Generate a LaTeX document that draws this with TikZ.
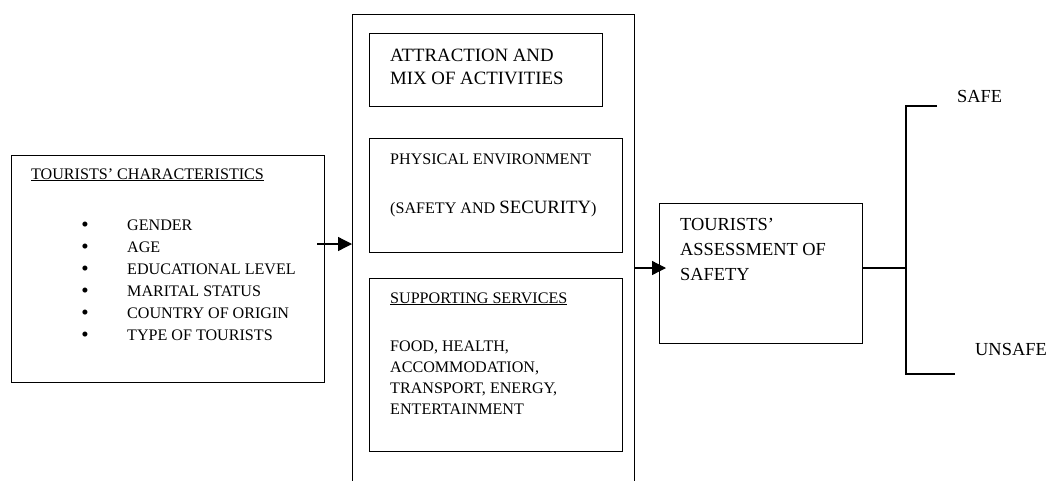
\documentclass[tikz,border=0pt]{standalone}
\usepackage{fontspec}
\setmainfont{Liberation Serif}
\usetikzlibrary{arrows.meta}
\tikzset{
  box/.style={draw, line width=1.3pt, inner sep=0pt, anchor=north west},
  txt/.style={anchor=base west, inner sep=0pt, font=\fontsize{16.1}{19}\selectfont},
  bul/.style={anchor=base, inner sep=0pt, font=\fontsize{21}{21}\selectfont},
  big/.style={anchor=base west, inner sep=0pt, font=\fontsize{18.8}{22}\selectfont},
  mid/.style={anchor=base west, inner sep=0pt, font=\fontsize{18.4}{21}\selectfont},
  arr/.style={line width=1.3pt, -{Triangle[length=14pt,width=14pt]}},
  ln/.style={line width=1.3pt}
}
\begin{document}
\begin{tikzpicture}[x=1pt,y=-1pt]
\useasboundingbox (0,0) rectangle (1049,480);
% left box
\node[box, minimum width=313pt, minimum height=227pt] (chars) at (11,155) {};
\node[txt] (ct) at (31,179) {\underline{TOURISTS’ CHARACTERISTICS}};
\foreach \t [count=\i] in {GENDER, AGE, EDUCATIONAL LEVEL, MARITAL STATUS, COUNTRY OF ORIGIN, TYPE OF TOURISTS}{
  \node[bul] (b\i) at (85,{209+22*\i}) {\textbullet};
  \node[txt] (it\i) at (127,{208+22*\i}) {\t};
}
% big box
\node[box, minimum width=282pt, minimum height=480pt] (bigbox) at (352,14) {};
\node[box, minimum width=233pt, minimum height=73pt] (attr) at (369,33) {};
\node[big] (at1) at (390,61) {ATTRACTION AND};
\node[big] (at2) at (390,84) {MIX OF ACTIVITIES};
\node[box, minimum width=253pt, minimum height=114pt] (phys) at (369,138) {};
\node[txt] (ph1) at (390,164) {PHYSICAL ENVIRONMENT};
\node[txt] (ph2) at (390,213) {(SAFETY AND {\fontsize{18.8}{22}\selectfont SECURITY})};
\node[box, minimum width=253pt, minimum height=173pt] (supp) at (369,278) {};
\node[txt] (su0) at (390,303) {\underline{SUPPORTING SERVICES}};
\node[txt] (su1) at (390,351) {FOOD, HEALTH,};
\node[txt] (su2) at (390,372) {ACCOMMODATION,};
\node[txt] (su3) at (390,393) {TRANSPORT, ENERGY,};
\node[txt] (su4) at (390,414) {ENTERTAINMENT};
% assessment
\node[box, minimum width=203pt, minimum height=140pt] (assess) at (659,203) {};
\node[mid] (as1) at (680,230) {TOURISTS’};
\node[mid] (as2) at (680,255) {ASSESSMENT OF};
\node[mid] (as3) at (680,280) {SAFETY};
% outcomes
\node[mid] (safe) at (957,102) {SAFE};
\node[mid] (unsafe) at (975,355) {UNSAFE};
\coordinate (j) at (906,268);
\coordinate (jt) at (906,106);
\coordinate (jb) at (906,374);
\coordinate (st) at (937,106);
\coordinate (sb) at (955,374);
% connectors
\coordinate (a1) at (317,244);
\draw[arr] (a1) -- (bigbox.west |- a1);
\coordinate (a2) at (634,268);
\draw[arr] (a2) -- ([xshift=7pt]assess.west |- a2);
\draw[ln] (assess.east |- j) -- (j);
\draw[ln] (st) -- (jt) -- (jb) -- (sb);
\end{tikzpicture}
\end{document}
